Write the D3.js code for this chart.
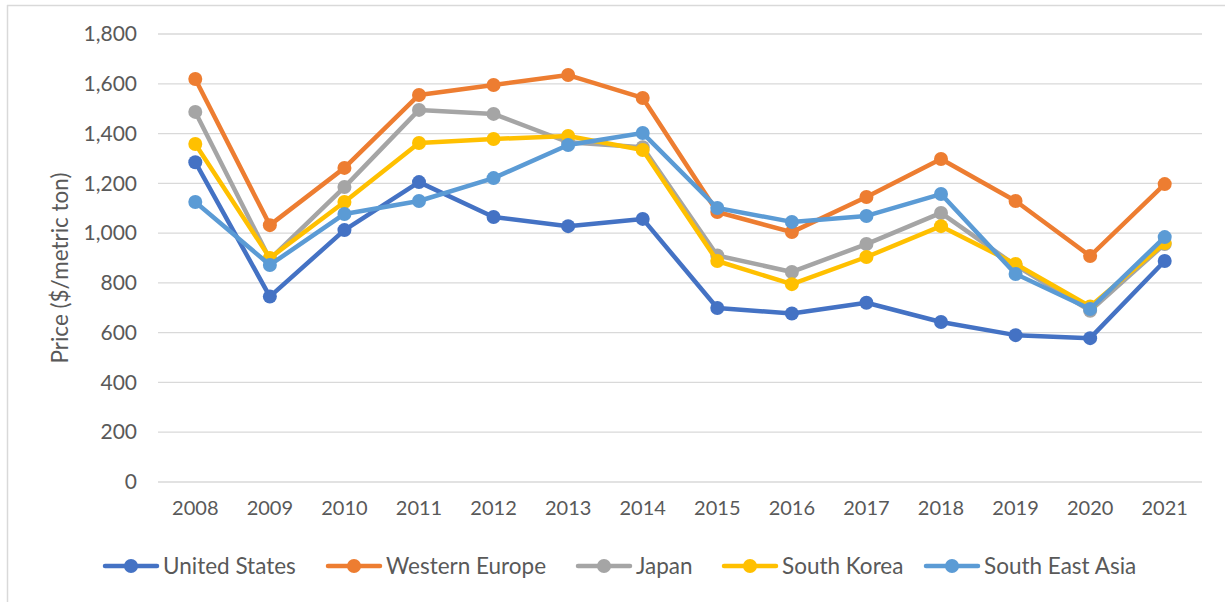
<!DOCTYPE html>
<html>
<head>
<meta charset="utf-8">
<script src="https://cdn.jsdelivr.net/npm/d3@7"></script>
<style>
  html, body { margin: 0; padding: 0; background: #fff; }
  svg { display: block; }
  text { font-family: Lato, "Noto Sans", sans-serif; fill: #595959; }
</style>
</head>
<body>
<svg id="chart" width="1225" height="602"></svg>
<script>
// Annual prices by region, $/metric ton
const years = ["2008","2009","2010","2011","2012","2013","2014","2015","2016","2017","2018","2019","2020","2021"];
const unitedStates  = [1285, 745, 1012, 1205, 1065, 1028, 1057, 699, 677, 720, 643, 590, 578, 888];
const westernEurope = [1619, 1032, 1262, 1555, 1595, 1635, 1543, 1085, 1004, 1145, 1298, 1129, 908, 1197];
const japan         = [1487, 895, 1185, 1495, 1479, 1365, 1345, 910, 844, 956, 1081, 870, 688, 956];
const southKorea    = [1358, 900, 1125, 1362, 1378, 1390, 1334, 888, 795, 904, 1028, 876, 705, 960];
const southEastAsia = [1125, 872, 1077, 1129, 1221, 1354, 1402, 1101, 1045, 1069, 1157, 836, 695, 984];
const yTicks = [0, 200, 400, 600, 800, 1000, 1200, 1400, 1600, 1800];

const seriesNames  = ["United States", "Western Europe", "Japan", "South Korea", "South East Asia"];
const seriesValues = [unitedStates, westernEurope, japan, southKorea, southEastAsia];
const colors = ["#4472C4", "#ED7D31", "#A5A5A5", "#FFC000", "#5B9BD5"];

const svg = d3.select("#chart");

// chart frame (top and left edges visible)
svg.append("line").attr("x1", 7).attr("x2", 1225).attr("y1", 5.5).attr("y2", 5.5)
  .attr("stroke", "#d9d9d9").attr("stroke-width", 1.5);
svg.append("line").attr("x1", 7.5).attr("x2", 7.5).attr("y1", 5).attr("y2", 602)
  .attr("stroke", "#d9d9d9").attr("stroke-width", 1.5);

const plot = { left: 158, right: 1202, top: 34, bottom: 482 };

const x = d3.scaleBand().domain(years).range([plot.left, plot.right]);
const y = d3.scaleLinear().domain([0, 1800]).range([plot.bottom, plot.top]);

// gridlines
svg.append("g").selectAll("line").data(yTicks).join("line")
  .attr("x1", plot.left).attr("x2", plot.right)
  .attr("y1", d => y(d)).attr("y2", d => y(d))
  .attr("stroke", "#d9d9d9").attr("stroke-width", 1.3);

// y axis labels
const yAxis = d3.axisLeft(y).tickValues(yTicks).tickFormat(d3.format(",")).tickSize(0).tickPadding(21);
const gy = svg.append("g").attr("transform", `translate(${plot.left},0)`).call(yAxis);
gy.select(".domain").remove();
gy.selectAll("text").style("font-size", "21px").attr("fill", "#595959");

// x axis labels
const xAxis = d3.axisBottom(x).tickSize(0).tickPadding(19);
const gx = svg.append("g").attr("transform", `translate(0,${plot.bottom})`).call(xAxis);
gx.select(".domain").remove();
gx.selectAll("text").style("font-size", "20px").attr("fill", "#595959");

// y axis title
svg.append("text")
  .attr("transform", `translate(68,${(plot.top + plot.bottom) / 2 + 10}) rotate(-90)`)
  .attr("text-anchor", "middle")
  .style("font-size", "22.5px")
  .text("Price ($/metric ton)");

// series
const line = d3.line()
  .x((d, i) => x(years[i]) + x.bandwidth() / 2)
  .y(d => y(d));

seriesValues.forEach((vals, s) => {
  const g = svg.append("g");
  g.append("path").datum(vals)
    .attr("d", line)
    .attr("fill", "none")
    .attr("stroke", colors[s])
    .attr("stroke-width", 4.5)
    .attr("stroke-linejoin", "round")
    .attr("stroke-linecap", "round");
  g.selectAll("circle").data(vals).join("circle")
    .attr("cx", (d, i) => x(years[i]) + x.bandwidth() / 2)
    .attr("cy", d => y(d))
    .attr("r", 7)
    .attr("fill", colors[s]);
});

// legend
const legendX = [105, 328, 578, 724, 926];
const legendY = 566;
const legend = svg.append("g");
seriesNames.forEach((name, s) => {
  const lg = legend.append("g").attr("transform", `translate(${legendX[s]},${legendY})`);
  lg.append("line").attr("x1", 0).attr("x2", 52).attr("y1", 0).attr("y2", 0)
    .attr("stroke", colors[s]).attr("stroke-width", 4.5).attr("stroke-linecap", "round");
  lg.append("circle").attr("cx", 26).attr("cy", 0).attr("r", 7).attr("fill", colors[s]);
  lg.append("text").attr("x", 58).attr("y", 8).style("font-size", "22.5px").text(name);
});
</script>
</body>
</html>
